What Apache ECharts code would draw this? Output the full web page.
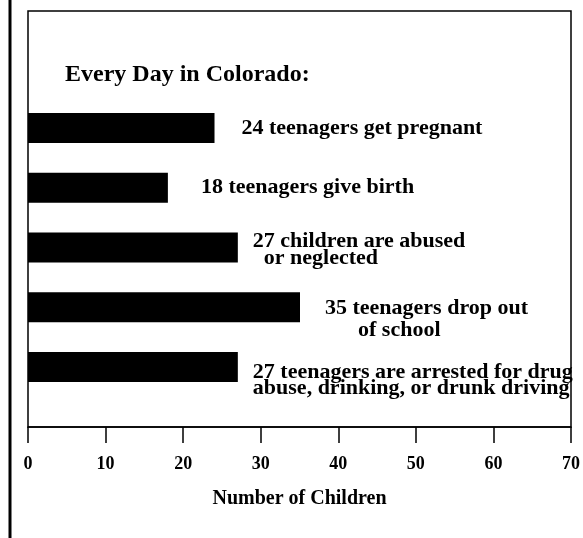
<!DOCTYPE html>
<html>
<head>
<meta charset="utf-8">
<script src="https://cdn.jsdelivr.net/npm/echarts@6/dist/echarts.min.js"></script>
<style>
  html, body { margin: 0; padding: 0; background: #fff; }
</style>
</head>
<body>
<div id="main" style="width:583px;height:538px;"></div>
<script type="text/javascript">
// data
var categories = ['pregnant', 'birth', 'abused', 'dropout', 'arrested'];
var values = [24, 18, 27, 35, 27];
var labelTexts = [
    '24 teenagers get pregnant',
    '18 teenagers give birth',
    '27 children are abused\n  or neglected',
    '35 teenagers drop out\n      of school',
    '27 teenagers are arrested for drug\nabuse, drinking, or drunk driving'
];
var xTicks = [0, 10, 20, 30, 40, 50, 60, 70];

// label placement tweaks (style only)
var labelDist = [27, 33, 15, 25, 15];
var labelOffY = [0, 0, 2, 12, 13];
var labelLineH = [20, 20, 17, 22, 16];

var serif = '"Liberation Serif", "DejaVu Serif", serif';

var myChart = echarts.init(document.getElementById('main'));

var barData = values.map(function (v, i) {
    return {
        value: v,
        label: {
            distance: labelDist[i],
            offset: [0, labelOffY[i]],
            lineHeight: labelLineH[i]
        }
    };
});

var option = {
    backgroundColor: '#fff',
    animation: false,
    title: {
        text: 'Every Day in Colorado:',
        left: 60,
        top: 58,
        textStyle: { fontFamily: serif, fontWeight: 'bold', fontSize: 24, color: '#000' }
    },
    grid: [
        // frame + x axis
        { left: 28, right: 11, top: 11, bottom: 111, show: true, borderColor: '#000', borderWidth: 1.5, backgroundColor: 'transparent' },
        // bars
        { left: 28, right: 11, top: 98, bottom: 141 }
    ],
    xAxis: [{
        gridIndex: 0,
        type: 'value',
        min: xTicks[0],
        max: xTicks[xTicks.length - 1],
        interval: 10,
        splitLine: { show: false },
        axisLine: { show: true, lineStyle: { color: '#000', width: 1.5 } },
        axisTick: { show: true, length: 16, lineStyle: { color: '#000', width: 1.5 } },
        axisLabel: { margin: 28, fontFamily: serif, fontWeight: 'bold', fontSize: 18, color: '#000' },
        name: 'Number of Children',
        nameLocation: 'middle',
        nameGap: 62,
        nameTextStyle: { fontFamily: serif, fontWeight: 'bold', fontSize: 20, color: '#000' }
    }, {
        gridIndex: 1,
        type: 'value',
        min: xTicks[0],
        max: xTicks[xTicks.length - 1],
        show: false
    }],
    yAxis: [{
        gridIndex: 0,
        type: 'value',
        show: false
    }, {
        gridIndex: 1,
        type: 'category',
        data: categories,
        inverse: true,
        show: false
    }],
    graphic: [{
        type: 'line',
        shape: { x1: 10, y1: 0, x2: 10, y2: 538 },
        style: { stroke: '#000', lineWidth: 3 }
    }],
    series: [{
        type: 'bar',
        xAxisIndex: 1,
        yAxisIndex: 1,
        data: barData,
        barWidth: 30,
        itemStyle: { color: '#000' },
        label: {
            show: true,
            position: 'right',
            align: 'left',
            fontFamily: serif,
            fontWeight: 'bold',
            fontSize: 22,
            color: '#000',
            formatter: function (p) { return labelTexts[p.dataIndex]; }
        }
    }]
};

myChart.setOption(option);
</script>
</body>
</html>
